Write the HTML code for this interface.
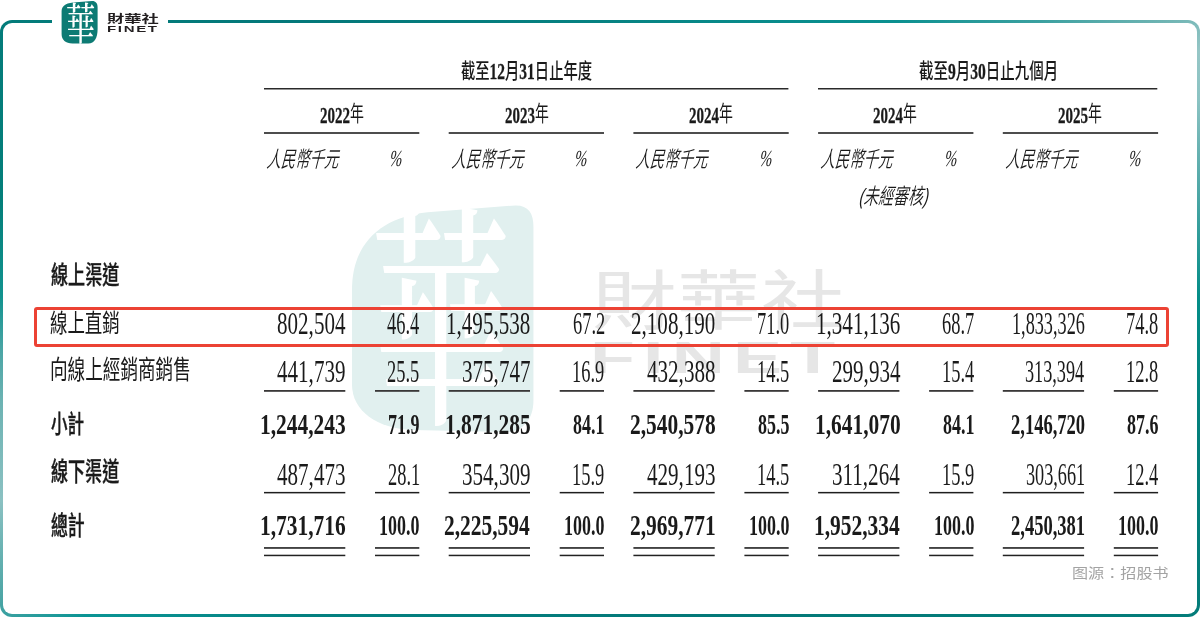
<!DOCTYPE html>
<html lang="zh-Hant"><head><meta charset="utf-8"><title>線上渠道收入</title>
<style>
html,body{margin:0;padding:0;background:#fff;}
body{width:1200px;height:637px;position:relative;overflow:hidden;}
.abs{position:absolute;left:0;top:0;}
.t{position:absolute;white-space:nowrap;transform-origin:0 0;}
#frame{position:absolute;left:0;top:20px;width:1200px;height:597px;border-radius:12px;background:conic-gradient(from 0deg at 600px 298px,#068282 0deg,#0a9090 45deg,#3aa0a0 56deg,#6cb3b2 62deg,#96c6c6 66deg,#8bc3c3 70deg,#6bb3b3 74deg,#48a5a4 79deg,#048d88 88deg,#047e7a 102deg,#047878 160deg,#048080 225deg,#0a9494 240deg,#4ea6a6 245deg,#6bb3b3 249deg,#8bc1c2 253deg,#6db3b3 262deg,#4aa5a5 267deg,#12938f 272deg,#037f7a 281deg,#04787a 315deg,#068282 360deg);}
#inner{position:absolute;left:3px;top:23px;width:1194px;height:591px;border-radius:9px;background:#fff;}
#gap{position:absolute;left:52px;top:16px;width:115.5px;height:10px;background:#fff;}
#redbox{position:absolute;left:34px;top:307px;width:1129px;height:34px;border:3px solid #ec4234;border-radius:3px;}
</style></head><body>
<div id="frame"></div><div id="inner"></div><div id="gap"></div>
<!-- watermark -->
<svg class="abs" width="1200" height="637" viewBox="0 0 1200 637">
<g transform="translate(352,205.4) scale(5.04,5.27)"><path d="M0,16 C0,7 6,2.2 15,1.3 L32.5,0 C35,0 36,1.5 36,4 L36,37 C36,40.5 34,43 30.4,43 L12,42.6 C5,42.4 0,39 0,34 Z" fill="#e1f0ef"/></g>
</svg>
<div class="t" style="left:592.00px;top:301.50px;transform:scaleX(1.3111);color:#e6e6e6;font-family:'Liberation Sans','Noto Sans CJK TC',sans-serif;font-weight:400;line-height:0;font-size:64.41px">財華社</div>
<div class="t" style="left:590.00px;top:357.60px;transform:scaleX(1.6397);color:#e6e6e6;font-family:'Liberation Sans',sans-serif;font-weight:bold;letter-spacing:5px;line-height:0;font-size:44.83px">FINET</div>
<div class="t" style="left:371.00px;top:327.00px;transform:scaleX(0.5899);color:#fff;font-family:'Liberation Serif','Noto Serif CJK SC',serif;font-weight:500;line-height:0;font-size:236.68px">華</div>
<svg class="abs" width="1200" height="637" viewBox="0 0 1200 637"><rect x="264.00" y="88.00" width="524.40" height="1.50" fill="#2a2a2a"/><rect x="818.00" y="88.00" width="339.30" height="1.50" fill="#2a2a2a"/><rect x="264.00" y="132.00" width="155.30" height="2.00" fill="#4d4d4d"/><rect x="448.70" y="132.00" width="155.30" height="2.00" fill="#4d4d4d"/><rect x="633.40" y="132.00" width="155.30" height="2.00" fill="#4d4d4d"/><rect x="818.10" y="132.00" width="155.30" height="2.00" fill="#4d4d4d"/><rect x="1002.80" y="132.00" width="155.30" height="2.00" fill="#4d4d4d"/><rect x="264.00" y="390.00" width="81.30" height="1.80" fill="#3a3838"/><rect x="264.00" y="491.90" width="81.30" height="1.50" fill="#1e1e1e"/><rect x="264.00" y="547.10" width="81.30" height="1.70" fill="#2e2e2e"/><rect x="264.00" y="554.70" width="81.30" height="1.50" fill="#222"/><rect x="375.00" y="390.00" width="44.30" height="1.80" fill="#3a3838"/><rect x="375.00" y="491.90" width="44.30" height="1.50" fill="#1e1e1e"/><rect x="375.00" y="547.10" width="44.30" height="1.70" fill="#2e2e2e"/><rect x="375.00" y="554.70" width="44.30" height="1.50" fill="#222"/><rect x="448.70" y="390.00" width="81.30" height="1.80" fill="#3a3838"/><rect x="448.70" y="491.90" width="81.30" height="1.50" fill="#1e1e1e"/><rect x="448.70" y="547.10" width="81.30" height="1.70" fill="#2e2e2e"/><rect x="448.70" y="554.70" width="81.30" height="1.50" fill="#222"/><rect x="559.70" y="390.00" width="44.30" height="1.80" fill="#3a3838"/><rect x="559.70" y="491.90" width="44.30" height="1.50" fill="#1e1e1e"/><rect x="559.70" y="547.10" width="44.30" height="1.70" fill="#2e2e2e"/><rect x="559.70" y="554.70" width="44.30" height="1.50" fill="#222"/><rect x="633.40" y="390.00" width="81.30" height="1.80" fill="#3a3838"/><rect x="633.40" y="491.90" width="81.30" height="1.50" fill="#1e1e1e"/><rect x="633.40" y="547.10" width="81.30" height="1.70" fill="#2e2e2e"/><rect x="633.40" y="554.70" width="81.30" height="1.50" fill="#222"/><rect x="744.40" y="390.00" width="44.30" height="1.80" fill="#3a3838"/><rect x="744.40" y="491.90" width="44.30" height="1.50" fill="#1e1e1e"/><rect x="744.40" y="547.10" width="44.30" height="1.70" fill="#2e2e2e"/><rect x="744.40" y="554.70" width="44.30" height="1.50" fill="#222"/><rect x="818.10" y="390.00" width="81.30" height="1.80" fill="#3a3838"/><rect x="818.10" y="491.90" width="81.30" height="1.50" fill="#1e1e1e"/><rect x="818.10" y="547.10" width="81.30" height="1.70" fill="#2e2e2e"/><rect x="818.10" y="554.70" width="81.30" height="1.50" fill="#222"/><rect x="929.10" y="390.00" width="44.30" height="1.80" fill="#3a3838"/><rect x="929.10" y="491.90" width="44.30" height="1.50" fill="#1e1e1e"/><rect x="929.10" y="547.10" width="44.30" height="1.70" fill="#2e2e2e"/><rect x="929.10" y="554.70" width="44.30" height="1.50" fill="#222"/><rect x="1002.80" y="390.00" width="81.30" height="1.80" fill="#3a3838"/><rect x="1002.80" y="491.90" width="81.30" height="1.50" fill="#1e1e1e"/><rect x="1002.80" y="547.10" width="81.30" height="1.70" fill="#2e2e2e"/><rect x="1002.80" y="554.70" width="81.30" height="1.50" fill="#222"/><rect x="1113.80" y="390.00" width="44.30" height="1.80" fill="#3a3838"/><rect x="1113.80" y="491.90" width="44.30" height="1.50" fill="#1e1e1e"/><rect x="1113.80" y="547.10" width="44.30" height="1.70" fill="#2e2e2e"/><rect x="1113.80" y="554.70" width="44.30" height="1.50" fill="#222"/></svg>
<div id="redbox"></div>
<div class="t" style="left:461.00px;top:70.70px;transform:scaleX(0.6812);color:#1a1a1a;line-height:0;;font-size:21.00px"><span style="font-family:'Liberation Sans','Noto Sans CJK TC',sans-serif;font-weight:500">截</span><span style="font-family:'Liberation Sans','Noto Sans CJK TC',sans-serif;font-weight:500">至</span><span style="font-family:'Liberation Serif',serif;font-weight:bold;font-size:1.08em;position:relative;top:0.06em;-webkit-text-stroke:0.3px">1</span><span style="font-family:'Liberation Serif',serif;font-weight:bold;font-size:1.08em;position:relative;top:0.06em;-webkit-text-stroke:0.3px">2</span><span style="font-family:'Liberation Sans','Noto Sans CJK TC',sans-serif;font-weight:500">月</span><span style="font-family:'Liberation Serif',serif;font-weight:bold;font-size:1.08em;position:relative;top:0.06em;-webkit-text-stroke:0.3px">3</span><span style="font-family:'Liberation Serif',serif;font-weight:bold;font-size:1.08em;position:relative;top:0.06em;-webkit-text-stroke:0.3px">1</span><span style="font-family:'Liberation Sans','Noto Sans CJK TC',sans-serif;font-weight:500">日</span><span style="font-family:'Liberation Sans','Noto Sans CJK TC',sans-serif;font-weight:500">止</span><span style="font-family:'Liberation Sans','Noto Sans CJK TC',sans-serif;font-weight:500">年</span><span style="font-family:'Liberation Sans','Noto Sans CJK TC',sans-serif;font-weight:500">度</span></div>
<div class="t" style="left:919.00px;top:70.70px;transform:scaleX(0.6889);color:#1a1a1a;line-height:0;;font-size:21.00px"><span style="font-family:'Liberation Sans','Noto Sans CJK TC',sans-serif;font-weight:500">截</span><span style="font-family:'Liberation Sans','Noto Sans CJK TC',sans-serif;font-weight:500">至</span><span style="font-family:'Liberation Serif',serif;font-weight:bold;font-size:1.08em;position:relative;top:0.06em;-webkit-text-stroke:0.3px">9</span><span style="font-family:'Liberation Sans','Noto Sans CJK TC',sans-serif;font-weight:500">月</span><span style="font-family:'Liberation Serif',serif;font-weight:bold;font-size:1.08em;position:relative;top:0.06em;-webkit-text-stroke:0.3px">3</span><span style="font-family:'Liberation Serif',serif;font-weight:bold;font-size:1.08em;position:relative;top:0.06em;-webkit-text-stroke:0.3px">0</span><span style="font-family:'Liberation Sans','Noto Sans CJK TC',sans-serif;font-weight:500">日</span><span style="font-family:'Liberation Sans','Noto Sans CJK TC',sans-serif;font-weight:500">止</span><span style="font-family:'Liberation Sans','Noto Sans CJK TC',sans-serif;font-weight:500">九</span><span style="font-family:'Liberation Sans','Noto Sans CJK TC',sans-serif;font-weight:500">個</span><span style="font-family:'Liberation Sans','Noto Sans CJK TC',sans-serif;font-weight:500">月</span></div>
<div class="t" style="left:319.50px;top:114.30px;transform:scaleX(0.6544);color:#1a1a1a;line-height:0;;font-size:21.26px"><span style="font-family:'Liberation Serif',serif;font-weight:bold;font-size:1.08em;position:relative;top:0.06em;-webkit-text-stroke:0.3px">2022</span><span style="font-family:'Liberation Sans','Noto Sans CJK TC',sans-serif;font-weight:400">年</span></div>
<div class="t" style="left:504.50px;top:114.30px;transform:scaleX(0.6510);color:#1a1a1a;line-height:0;;font-size:21.26px"><span style="font-family:'Liberation Serif',serif;font-weight:bold;font-size:1.08em;position:relative;top:0.06em;-webkit-text-stroke:0.3px">2023</span><span style="font-family:'Liberation Sans','Noto Sans CJK TC',sans-serif;font-weight:400">年</span></div>
<div class="t" style="left:689.00px;top:114.30px;transform:scaleX(0.6544);color:#1a1a1a;line-height:0;;font-size:21.26px"><span style="font-family:'Liberation Serif',serif;font-weight:bold;font-size:1.08em;position:relative;top:0.06em;-webkit-text-stroke:0.3px">2024</span><span style="font-family:'Liberation Sans','Noto Sans CJK TC',sans-serif;font-weight:400">年</span></div>
<div class="t" style="left:872.70px;top:114.30px;transform:scaleX(0.6510);color:#1a1a1a;line-height:0;;font-size:21.26px"><span style="font-family:'Liberation Serif',serif;font-weight:bold;font-size:1.08em;position:relative;top:0.06em;-webkit-text-stroke:0.3px">2024</span><span style="font-family:'Liberation Sans','Noto Sans CJK TC',sans-serif;font-weight:400">年</span></div>
<div class="t" style="left:1057.50px;top:114.30px;transform:scaleX(0.6544);color:#1a1a1a;line-height:0;;font-size:21.26px"><span style="font-family:'Liberation Serif',serif;font-weight:bold;font-size:1.08em;position:relative;top:0.06em;-webkit-text-stroke:0.3px">2025</span><span style="font-family:'Liberation Sans','Noto Sans CJK TC',sans-serif;font-weight:400">年</span></div>
<div class="t" style="left:268.00px;top:159.75px;transform:skewX(-14deg) scaleX(0.6526);color:#1a1a1a;font-family:'Liberation Sans','Noto Sans CJK TC',sans-serif;font-weight:350;font-size:22px;line-height:0">人民幣千元</div>
<div class="t" style="left:390.40px;top:158.60px;transform:skewX(-12deg) scaleX(0.6493);color:#1a1a1a;font-family:'Liberation Serif',serif;font-size:23px;line-height:0">%</div>
<div class="t" style="left:452.70px;top:159.75px;transform:skewX(-14deg) scaleX(0.6526);color:#1a1a1a;font-family:'Liberation Sans','Noto Sans CJK TC',sans-serif;font-weight:350;font-size:22px;line-height:0">人民幣千元</div>
<div class="t" style="left:575.10px;top:158.60px;transform:skewX(-12deg) scaleX(0.6493);color:#1a1a1a;font-family:'Liberation Serif',serif;font-size:23px;line-height:0">%</div>
<div class="t" style="left:637.40px;top:159.75px;transform:skewX(-14deg) scaleX(0.6526);color:#1a1a1a;font-family:'Liberation Sans','Noto Sans CJK TC',sans-serif;font-weight:350;font-size:22px;line-height:0">人民幣千元</div>
<div class="t" style="left:759.80px;top:158.60px;transform:skewX(-12deg) scaleX(0.6493);color:#1a1a1a;font-family:'Liberation Serif',serif;font-size:23px;line-height:0">%</div>
<div class="t" style="left:822.10px;top:159.75px;transform:skewX(-14deg) scaleX(0.6526);color:#1a1a1a;font-family:'Liberation Sans','Noto Sans CJK TC',sans-serif;font-weight:350;font-size:22px;line-height:0">人民幣千元</div>
<div class="t" style="left:944.50px;top:158.60px;transform:skewX(-12deg) scaleX(0.6493);color:#1a1a1a;font-family:'Liberation Serif',serif;font-size:23px;line-height:0">%</div>
<div class="t" style="left:1006.80px;top:159.75px;transform:skewX(-14deg) scaleX(0.6526);color:#1a1a1a;font-family:'Liberation Sans','Noto Sans CJK TC',sans-serif;font-weight:350;font-size:22px;line-height:0">人民幣千元</div>
<div class="t" style="left:1129.20px;top:158.60px;transform:skewX(-12deg) scaleX(0.6493);color:#1a1a1a;font-family:'Liberation Serif',serif;font-size:23px;line-height:0">%</div>
<div class="t" style="left:859.90px;top:196.50px;transform:skewX(-14deg) scaleX(0.6736);color:#1a1a1a;font-family:'Liberation Sans','Noto Sans CJK TC',sans-serif;font-weight:350;font-size:22px;line-height:0">(未經審核)</div>
<div class="t" style="left:51.20px;top:275.10px;transform:scaleX(0.6859);color:#1a1a1a;font-family:'Liberation Sans','Noto Sans CJK TC',sans-serif;font-weight:500;-webkit-text-stroke:0.4px;line-height:0;font-size:24.91px">線上渠道</div>
<div class="t" style="left:50.20px;top:322.60px;transform:scaleX(0.6890);color:#1a1a1a;font-family:'Liberation Sans','Noto Sans CJK TC',sans-serif;font-weight:400;line-height:0;font-size:25.30px">線上直銷</div>
<div class="t" style="left:50.40px;top:370.10px;transform:scaleX(0.6822);color:#1a1a1a;font-family:'Liberation Sans','Noto Sans CJK TC',sans-serif;font-weight:400;line-height:0;font-size:25.81px">向線上經銷商銷售</div>
<div class="t" style="left:51.30px;top:423.80px;transform:scaleX(0.6523);color:#1a1a1a;font-family:'Liberation Sans','Noto Sans CJK TC',sans-serif;font-weight:500;-webkit-text-stroke:0.4px;line-height:0;font-size:25.40px">小計</div>
<div class="t" style="left:51.20px;top:471.80px;transform:scaleX(0.6529);color:#1a1a1a;font-family:'Liberation Sans','Noto Sans CJK TC',sans-serif;font-weight:500;-webkit-text-stroke:0.4px;line-height:0;font-size:26.11px">線下渠道</div>
<div class="t" style="left:50.80px;top:526.00px;transform:scaleX(0.6563);color:#1a1a1a;font-family:'Liberation Sans','Noto Sans CJK TC',sans-serif;font-weight:500;-webkit-text-stroke:0.4px;line-height:0;font-size:25.70px">總計</div>
<div class="t" style="left:277.40px;top:324.20px;transform:scaleX(0.6800);color:#1a1a1a;font-family:'Liberation Serif',serif;font-size:31px;line-height:0">802,504</div>
<div class="t" style="left:387.40px;top:324.20px;transform:scaleX(0.5950);color:#1a1a1a;font-family:'Liberation Serif',serif;font-size:31px;line-height:0">46.4</div>
<div class="t" style="left:446.10px;top:324.20px;transform:scaleX(0.6800);color:#1a1a1a;font-family:'Liberation Serif',serif;font-size:31px;line-height:0">1,495,538</div>
<div class="t" style="left:573.10px;top:324.20px;transform:scaleX(0.5950);color:#1a1a1a;font-family:'Liberation Serif',serif;font-size:31px;line-height:0">67.2</div>
<div class="t" style="left:630.80px;top:324.20px;transform:scaleX(0.6800);color:#1a1a1a;font-family:'Liberation Serif',serif;font-size:31px;line-height:0">2,108,190</div>
<div class="t" style="left:756.80px;top:324.20px;transform:scaleX(0.5950);color:#1a1a1a;font-family:'Liberation Serif',serif;font-size:31px;line-height:0">71.0</div>
<div class="t" style="left:815.50px;top:324.20px;transform:scaleX(0.6800);color:#1a1a1a;font-family:'Liberation Serif',serif;font-size:31px;line-height:0">1,341,136</div>
<div class="t" style="left:941.50px;top:324.20px;transform:scaleX(0.5950);color:#1a1a1a;font-family:'Liberation Serif',serif;font-size:31px;line-height:0">68.7</div>
<div class="t" style="left:1012.20px;top:324.20px;transform:scaleX(0.5875);color:#1a1a1a;font-family:'Liberation Serif',serif;font-size:31px;line-height:0">1,833,326</div>
<div class="t" style="left:1126.20px;top:324.20px;transform:scaleX(0.5950);color:#1a1a1a;font-family:'Liberation Serif',serif;font-size:31px;line-height:0">74.8</div>
<div class="t" style="left:277.40px;top:371.80px;transform:scaleX(0.6800);color:#1a1a1a;font-family:'Liberation Serif',serif;font-size:31px;line-height:0">441,739</div>
<div class="t" style="left:387.40px;top:371.80px;transform:scaleX(0.5950);color:#1a1a1a;font-family:'Liberation Serif',serif;font-size:31px;line-height:0">25.5</div>
<div class="t" style="left:462.10px;top:371.80px;transform:scaleX(0.6800);color:#1a1a1a;font-family:'Liberation Serif',serif;font-size:31px;line-height:0">375,747</div>
<div class="t" style="left:572.10px;top:371.80px;transform:scaleX(0.5950);color:#1a1a1a;font-family:'Liberation Serif',serif;font-size:31px;line-height:0">16.9</div>
<div class="t" style="left:646.80px;top:371.80px;transform:scaleX(0.6800);color:#1a1a1a;font-family:'Liberation Serif',serif;font-size:31px;line-height:0">432,388</div>
<div class="t" style="left:756.80px;top:371.80px;transform:scaleX(0.5950);color:#1a1a1a;font-family:'Liberation Serif',serif;font-size:31px;line-height:0">14.5</div>
<div class="t" style="left:831.50px;top:371.80px;transform:scaleX(0.6800);color:#1a1a1a;font-family:'Liberation Serif',serif;font-size:31px;line-height:0">299,934</div>
<div class="t" style="left:941.50px;top:371.80px;transform:scaleX(0.5950);color:#1a1a1a;font-family:'Liberation Serif',serif;font-size:31px;line-height:0">15.4</div>
<div class="t" style="left:1025.20px;top:371.80px;transform:scaleX(0.5875);color:#1a1a1a;font-family:'Liberation Serif',serif;font-size:31px;line-height:0">313,394</div>
<div class="t" style="left:1126.20px;top:371.80px;transform:scaleX(0.5950);color:#1a1a1a;font-family:'Liberation Serif',serif;font-size:31px;line-height:0">12.8</div>
<div class="t" style="left:260.40px;top:423.80px;transform:scaleX(0.7150);color:#1a1a1a;font-family:'Liberation Serif',serif;font-weight:bold;font-size:30px;line-height:0">1,244,243</div>
<div class="t" style="left:388.40px;top:423.80px;transform:scaleX(0.6000);color:#1a1a1a;font-family:'Liberation Serif',serif;font-weight:bold;font-size:30px;line-height:0">71.9</div>
<div class="t" style="left:445.10px;top:423.80px;transform:scaleX(0.7150);color:#1a1a1a;font-family:'Liberation Serif',serif;font-weight:bold;font-size:30px;line-height:0">1,871,285</div>
<div class="t" style="left:573.10px;top:423.80px;transform:scaleX(0.6000);color:#1a1a1a;font-family:'Liberation Serif',serif;font-weight:bold;font-size:30px;line-height:0">84.1</div>
<div class="t" style="left:629.80px;top:423.80px;transform:scaleX(0.7150);color:#1a1a1a;font-family:'Liberation Serif',serif;font-weight:bold;font-size:30px;line-height:0">2,540,578</div>
<div class="t" style="left:757.80px;top:423.80px;transform:scaleX(0.6000);color:#1a1a1a;font-family:'Liberation Serif',serif;font-weight:bold;font-size:30px;line-height:0">85.5</div>
<div class="t" style="left:814.50px;top:423.80px;transform:scaleX(0.7150);color:#1a1a1a;font-family:'Liberation Serif',serif;font-weight:bold;font-size:30px;line-height:0">1,641,070</div>
<div class="t" style="left:942.50px;top:423.80px;transform:scaleX(0.6000);color:#1a1a1a;font-family:'Liberation Serif',serif;font-weight:bold;font-size:30px;line-height:0">84.1</div>
<div class="t" style="left:1011.20px;top:423.80px;transform:scaleX(0.6178);color:#1a1a1a;font-family:'Liberation Serif',serif;font-weight:bold;font-size:30px;line-height:0">2,146,720</div>
<div class="t" style="left:1127.20px;top:423.80px;transform:scaleX(0.6000);color:#1a1a1a;font-family:'Liberation Serif',serif;font-weight:bold;font-size:30px;line-height:0">87.6</div>
<div class="t" style="left:277.40px;top:475.00px;transform:scaleX(0.6800);color:#1a1a1a;font-family:'Liberation Serif',serif;font-size:31px;line-height:0">487,473</div>
<div class="t" style="left:388.40px;top:475.00px;transform:scaleX(0.5950);color:#1a1a1a;font-family:'Liberation Serif',serif;font-size:31px;line-height:0">28.1</div>
<div class="t" style="left:462.10px;top:475.00px;transform:scaleX(0.6800);color:#1a1a1a;font-family:'Liberation Serif',serif;font-size:31px;line-height:0">354,309</div>
<div class="t" style="left:572.10px;top:475.00px;transform:scaleX(0.5950);color:#1a1a1a;font-family:'Liberation Serif',serif;font-size:31px;line-height:0">15.9</div>
<div class="t" style="left:646.80px;top:475.00px;transform:scaleX(0.6800);color:#1a1a1a;font-family:'Liberation Serif',serif;font-size:31px;line-height:0">429,193</div>
<div class="t" style="left:756.80px;top:475.00px;transform:scaleX(0.5950);color:#1a1a1a;font-family:'Liberation Serif',serif;font-size:31px;line-height:0">14.5</div>
<div class="t" style="left:831.50px;top:475.00px;transform:scaleX(0.6800);color:#1a1a1a;font-family:'Liberation Serif',serif;font-size:31px;line-height:0">311,264</div>
<div class="t" style="left:941.50px;top:475.00px;transform:scaleX(0.5950);color:#1a1a1a;font-family:'Liberation Serif',serif;font-size:31px;line-height:0">15.9</div>
<div class="t" style="left:1026.20px;top:475.00px;transform:scaleX(0.5875);color:#1a1a1a;font-family:'Liberation Serif',serif;font-size:31px;line-height:0">303,661</div>
<div class="t" style="left:1126.20px;top:475.00px;transform:scaleX(0.5950);color:#1a1a1a;font-family:'Liberation Serif',serif;font-size:31px;line-height:0">12.4</div>
<div class="t" style="left:260.40px;top:524.90px;transform:scaleX(0.7150);color:#1a1a1a;font-family:'Liberation Serif',serif;font-weight:bold;font-size:30px;line-height:0">1,731,716</div>
<div class="t" style="left:379.40px;top:524.90px;transform:scaleX(0.6000);color:#1a1a1a;font-family:'Liberation Serif',serif;font-weight:bold;font-size:30px;line-height:0">100.0</div>
<div class="t" style="left:444.10px;top:524.90px;transform:scaleX(0.7150);color:#1a1a1a;font-family:'Liberation Serif',serif;font-weight:bold;font-size:30px;line-height:0">2,225,594</div>
<div class="t" style="left:564.10px;top:524.90px;transform:scaleX(0.6000);color:#1a1a1a;font-family:'Liberation Serif',serif;font-weight:bold;font-size:30px;line-height:0">100.0</div>
<div class="t" style="left:629.80px;top:524.90px;transform:scaleX(0.7150);color:#1a1a1a;font-family:'Liberation Serif',serif;font-weight:bold;font-size:30px;line-height:0">2,969,771</div>
<div class="t" style="left:748.80px;top:524.90px;transform:scaleX(0.6000);color:#1a1a1a;font-family:'Liberation Serif',serif;font-weight:bold;font-size:30px;line-height:0">100.0</div>
<div class="t" style="left:813.50px;top:524.90px;transform:scaleX(0.7150);color:#1a1a1a;font-family:'Liberation Serif',serif;font-weight:bold;font-size:30px;line-height:0">1,952,334</div>
<div class="t" style="left:933.50px;top:524.90px;transform:scaleX(0.6000);color:#1a1a1a;font-family:'Liberation Serif',serif;font-weight:bold;font-size:30px;line-height:0">100.0</div>
<div class="t" style="left:1011.20px;top:524.90px;transform:scaleX(0.6178);color:#1a1a1a;font-family:'Liberation Serif',serif;font-weight:bold;font-size:30px;line-height:0">2,450,381</div>
<div class="t" style="left:1118.20px;top:524.90px;transform:scaleX(0.6000);color:#1a1a1a;font-family:'Liberation Serif',serif;font-weight:bold;font-size:30px;line-height:0">100.0</div>
<div class="t" style="left:1072.30px;top:573.50px;transform:scaleX(1.1813);color:#a3a3a3;font-family:'Liberation Sans','Noto Sans CJK SC',sans-serif;line-height:0;font-size:13.63px">图源：招股书</div>
<!-- logo -->
<svg class="abs" width="1200" height="637" viewBox="0 0 1200 637">
<g transform="translate(61.6,1)"><path d="M0,10 C0,4 6,1.5 14.4,1.2 L30.4,0.1 C34,0 36,2.5 36,6.2 L36,28 C36,37 33,42.4 26.7,42.4 L10.9,42.4 C4,42.4 0,39 0,33 Z" fill="#0d7b74"/></g>
</svg>
<div class="t" style="left:106.75px;top:18.50px;transform:scaleX(1.5006);color:#231f20;font-family:'Liberation Sans','Noto Sans CJK TC',sans-serif;font-weight:700;line-height:0;font-size:11.52px">財華社</div>
<div class="t" style="left:107.25px;top:29.20px;transform:scaleX(1.6674);color:#231f20;font-family:'Liberation Sans',sans-serif;font-weight:bold;letter-spacing:1px;line-height:0;font-size:9px">FINET</div>
<div class="t" style="left:65.50px;top:25.50px;transform:scaleX(0.6632);color:#fff;font-family:'Liberation Serif','Noto Serif CJK SC',serif;font-weight:500;line-height:0;font-size:44.10px">華</div>
</body></html>
